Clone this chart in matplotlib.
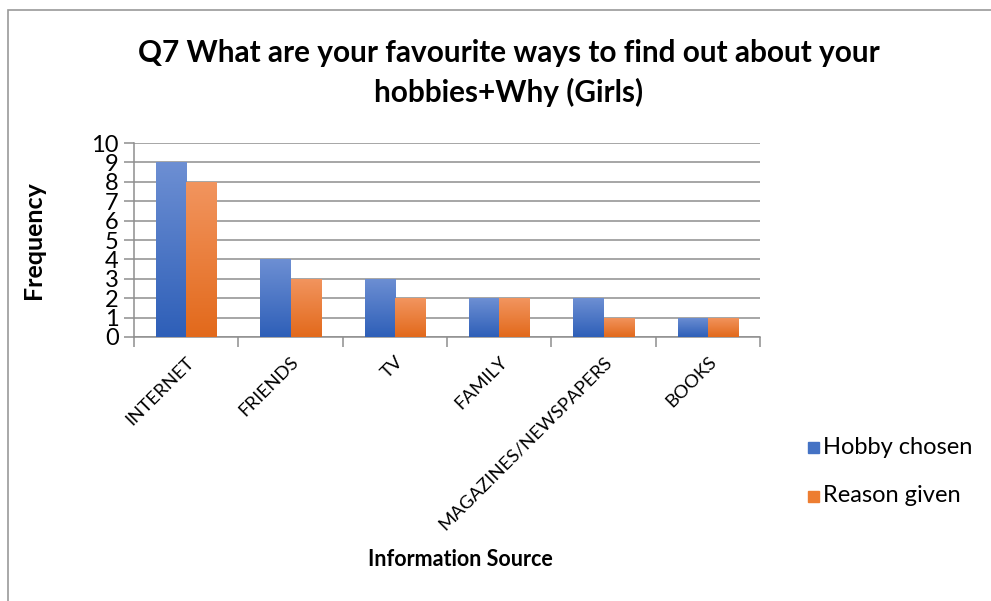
import numpy as np
import matplotlib
matplotlib.use("Agg")
import matplotlib.pyplot as plt
from matplotlib.colors import LinearSegmentedColormap
from matplotlib.patches import Rectangle

sources = ['INTERNET', 'FRIENDS', 'TV', 'FAMILY', 'MAGAZINES/NEWSPAPERS', 'BOOKS']
hobby_chosen = [9, 4, 3, 2, 2, 1]
reason_given = [8, 3, 2, 2, 1, 1]

plt.rcParams['font.family'] = ['Lato', 'DejaVu Sans']

fig = plt.figure(figsize=(9.91, 6.01), dpi=100)
ax = fig.add_axes([0.1352, 0.4393, 0.767 - 0.1352, 0.762 - 0.4393])

# outer chart frame
fig.patches.append(Rectangle((8 / 991, -0.05), 1.1, 1 - 10 / 601 + 0.05,
                             transform=fig.transFigure, fill=False,
                             edgecolor='#9a9a9a', linewidth=1.2))

x = np.arange(len(sources))
w = 0.29
blue_map = LinearSegmentedColormap.from_list('b', ['#2e5fb8', '#6d8fd3'])
orange_map = LinearSegmentedColormap.from_list('o', ['#e2691b', '#f2955f'])


def gradient_bars(xs, vals, cmap, color):
    bars = ax.bar(xs, vals, w, color=color, zorder=3)
    grad = np.linspace(0, 1, 256).reshape(-1, 1)
    for b in bars:
        x0, h = b.get_x(), b.get_height()
        im = ax.imshow(grad, cmap=cmap, origin='lower', aspect='auto',
                       extent=[x0, x0 + b.get_width(), 0, h],
                       zorder=3.5)
        im.set_clip_path(b)
    return bars


gradient_bars(x - w / 2, hobby_chosen, blue_map, '#4472c4')
gradient_bars(x + w / 2, reason_given, orange_map, '#ed7d31')

ax.set_xlim(-0.5, len(sources) - 0.5)
ax.set_ylim(0, 10)
ax.set_yticks(range(0, 11))
ax.yaxis.grid(True, color='#8e8e8e', linewidth=1.1, zorder=0)
ax.set_axisbelow(True)

ax.set_xticks(x)
ax.set_xticklabels(sources, rotation=45, ha='right', rotation_mode='anchor',
                   fontsize=13.3)
ax.set_xticks(np.arange(-0.5, len(sources)), minor=True)
ax.tick_params(axis='x', which='major', length=0, pad=12)
ax.tick_params(axis='x', which='minor', length=7, color='#8e8e8e', width=1.1)
ax.tick_params(axis='y', length=7, color='#8e8e8e', width=1.1, labelsize=17,
               pad=4)

for s in ['top', 'right']:
    ax.spines[s].set_visible(False)
for s in ['left', 'bottom']:
    ax.spines[s].set_color('#8e8e8e')
    ax.spines[s].set_linewidth(1.1)

ax.set_ylabel('Frequency', fontsize=18, fontweight='bold')
ax.yaxis.set_label_coords(45 / 991, 1 - 240 / 601, transform=fig.transFigure)
fig.text(460 / 991, 1 - 560 / 601, 'Information Source', fontsize=15.5,
         fontweight='bold', ha='center', va='center')
fig.text(509 / 991, 1 - 73 / 601,
         'Q7 What are your favourite ways to find out about your\nhobbies+Why (Girls)',
         fontsize=21.4, fontweight='bold', ha='center', va='center',
         linespacing=1.45)

# legend entries on the right
for i, (lab, col) in enumerate([('Hobby chosen', '#4472c4'), ('Reason given', '#ed7d31')]):
    yy = 1 - (447 + 49 * i) / 601
    fig.patches.append(Rectangle((808 / 991, yy - 6 / 601), 11 / 991, 11 / 601,
                                 transform=fig.transFigure, color=col))
    fig.text(823 / 991, yy, lab, fontsize=17, va='center', ha='left')

fig.savefig('out.png', dpi=100)
